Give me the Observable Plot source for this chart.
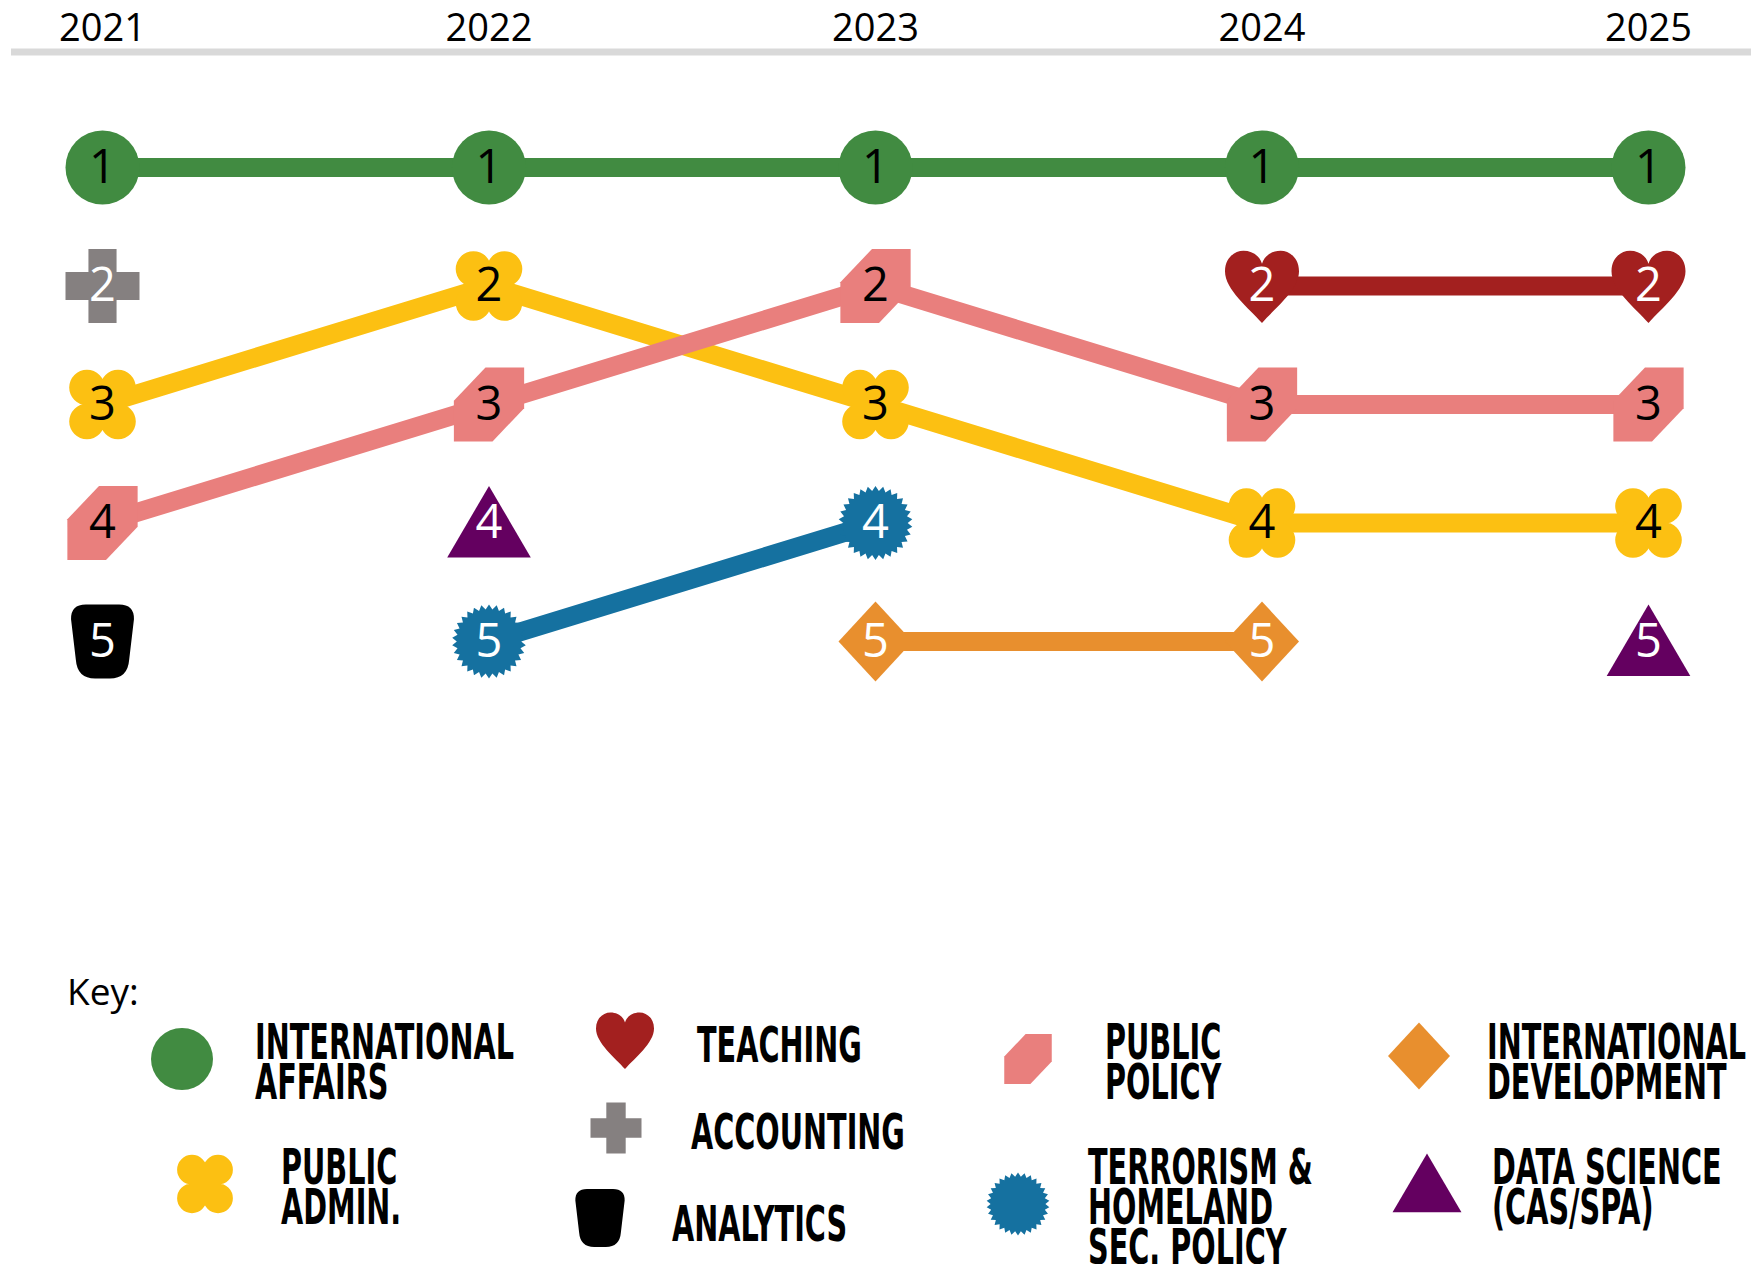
<!DOCTYPE html>
<html><head><meta charset="utf-8">
<script src="https://cdn.jsdelivr.net/npm/d3@7"></script>
<script src="https://cdn.jsdelivr.net/npm/@observablehq/plot@0.6"></script>
<style>
html,body{margin:0;padding:0;background:#fff;}
#chart svg,#legend svg{display:block;}
</style></head><body>
<div id="chart"></div>
<div id="legend"></div>
<script>
// ---------- data ----------
const years = [2021, 2022, 2023, 2024, 2025];
const programs = [
  "International Affairs", "Teaching", "Accounting", "Public Admin.", "Public Policy",
  "Analytics", "Terrorism & Homeland Sec. Policy", "International Development", "Data Science (CAS/SPA)"
];
// rank per year (null = not in top five that year)
const rankIntlAffairs   = [1, 1, 1, 1, 1];
const rankTeaching      = [null, null, null, 2, 2];
const rankAccounting    = [2, null, null, null, null];
const rankPublicAdmin   = [3, 2, 3, 4, 4];
const rankPublicPolicy  = [4, 3, 2, 3, 3];
const rankAnalytics     = [5, null, null, null, null];
const rankTerrorism     = [null, 5, 4, null, null];
const rankIntlDev       = [null, null, 5, 5, null];
const rankDataScience   = [null, 4, null, null, 5];
const rankSeries = [rankIntlAffairs, rankTeaching, rankAccounting, rankPublicAdmin, rankPublicPolicy,
  rankAnalytics, rankTerrorism, rankIntlDev, rankDataScience];
const legendLines = [
  ["INTERNATIONAL", "AFFAIRS"], ["TEACHING"], ["ACCOUNTING"], ["PUBLIC", "ADMIN."], ["PUBLIC", "POLICY"],
  ["ANALYTICS"], ["TERRORISM &", "HOMELAND", "SEC. POLICY"], ["INTERNATIONAL", "DEVELOPMENT"], ["DATA SCIENCE", "(CAS/SPA)"]
];

// ---------- styles ----------
const colors = ["#418b41", "#a3201f", "#858080", "#fcc012", "#e97f7d", "#000000", "#1571a0", "#e88f2e", "#640060"];
const digitColors = ["#000", "#fff", "#fff", "#000", "#000", "#fff", "#fff", "#fff", "#fff"];

// ---------- custom symbols (d3 symbol type interface) ----------
const R = s => Math.sqrt(s / Math.PI);
const poly = (c, pts, w, h) => { pts.forEach(([x, y], i) => i ? c.lineTo(x * w, y * h) : c.moveTo(x * w, y * h)); c.closePath(); };
const symCircle = {draw(c, s) { const r = R(s); c.moveTo(r, 0); c.arc(0, 0, r, 0, 2 * Math.PI); }};
const symBlob = {draw(c, s) {
  const r = R(s), cx = 0.42 * r, cy = 0.46 * r, rr = 0.48 * r;
  for (const [sx, sy] of [[-1, -1], [1, -1], [1, 1], [-1, 1]]) { c.moveTo(sx * cx + rr, sy * cy); c.arc(sx * cx, sy * cy, rr, 0, 2 * Math.PI); }
  poly(c, [[-1, -1], [1, -1], [1, 1], [-1, 1]], cx, cy);
}};
const symHex = {draw(c, s) { const r = R(s); poly(c, [[-0.1, -1], [1, -1], [1, 0.1], [0.1, 1], [-1, 1], [-1, -0.1]], 0.95 * r, r); }};
const symHeart = {draw(c, s) {
  const r = R(s), p = (x, y) => [x * r, y * r];
  c.moveTo(...p(0, 1.0));
  c.bezierCurveTo(...p(-0.35, 0.6), ...p(-1.0, 0.1), ...p(-1.0, -0.4));
  c.bezierCurveTo(...p(-1.0, -0.75), ...p(-0.75, -0.95), ...p(-0.5, -0.95));
  c.bezierCurveTo(...p(-0.25, -0.95), ...p(-0.05, -0.8), ...p(0, -0.6));
  c.bezierCurveTo(...p(0.05, -0.8), ...p(0.25, -0.95), ...p(0.5, -0.95));
  c.bezierCurveTo(...p(0.75, -0.95), ...p(1.0, -0.75), ...p(1.0, -0.4));
  c.bezierCurveTo(...p(1.0, 0.1), ...p(0.35, 0.6), ...p(0, 1.0));
  c.closePath();
}};
const symPlus = {draw(c, s) { const r = R(s), a = 0.38;
  poly(c, [[-a, -1], [a, -1], [a, -a], [1, -a], [1, a], [a, a], [a, 1], [-a, 1], [-a, a], [-1, a], [-1, -a], [-a, -a]], r, r); }};
const symTomb = {draw(c, s) {
  const r = R(s), p = (x, y) => [x * r, y * r];
  c.moveTo(...p(-0.45, -1)); c.lineTo(...p(0.45, -1));
  c.quadraticCurveTo(...p(0.86, -1), ...p(0.85, -0.6));
  c.lineTo(...p(0.72, 0.5));
  c.quadraticCurveTo(...p(0.68, 1), ...p(0.2, 1));
  c.lineTo(...p(-0.2, 1));
  c.quadraticCurveTo(...p(-0.68, 1), ...p(-0.72, 0.5));
  c.lineTo(...p(-0.85, -0.6));
  c.quadraticCurveTo(...p(-0.86, -1), ...p(-0.45, -1));
  c.closePath();
}};
const symStar = {draw(c, s) { const r = R(s), n = 30;
  for (let i = 0; i < 2 * n; ++i) { const a = i * Math.PI / n - Math.PI / 2, rad = i % 2 ? 0.87 * r : r;
    i ? c.lineTo(rad * Math.cos(a), rad * Math.sin(a)) : c.moveTo(rad * Math.cos(a), rad * Math.sin(a)); }
  c.closePath(); }};
const symDiamond = {draw(c, s) { const r = R(s); poly(c, [[0, -1.08], [1, 0], [0, 1.08], [-1, 0]], r, r); }};
const symTriangle = {draw(c, s) { const r = R(s); poly(c, [[0, -1.0], [1.13, 0.93], [-1.13, 0.93]], r, r); }};
const symbols = [symCircle, symHeart, symPlus, symBlob, symHex, symTomb, symStar, symDiamond, symTriangle];

// ---------- table ----------
const rows = programs.flatMap((p, k) => years.map((year, i) => ({program: p, k, year, rank: rankSeries[k][i] ?? NaN})));
const present = rows.filter(d => !isNaN(d.rank));

// ---------- main chart ----------
const marks = [];
programs.forEach((p, k) => marks.push(Plot.line(rows.filter(d => d.k === k), {x: "year", y: "rank", stroke: colors[k], strokeWidth: 19})));
programs.forEach((p, k) => marks.push(Plot.dot(present.filter(d => d.k === k), {x: "year", y: "rank", r: 37, symbol: symbols[k], fill: colors[k], stroke: "none"})));
programs.forEach((p, k) => marks.push(Plot.text(present.filter(d => d.k === k), {x: "year", y: "rank", text: d => String(d.rank), fill: digitColors[k], fontSize: 47, fontFamily: "Open Sans"})));
marks.push(Plot.axisX({anchor: "top", ticks: years, tickSize: 0, tickPadding: 12, tickFormat: d => String(d), fontSize: 38, fontFamily: "Open Sans", label: null}));

const chart = Plot.plot({
  width: 1751, height: 960,
  marginTop: 52, marginLeft: 102, marginRight: 103, marginBottom: 0,
  x: {type: "linear", domain: [2021, 2025], label: null},
  y: {domain: [1, 5], range: [167, 641], axis: null},
  style: {fontFamily: "Open Sans", color: "#000", background: "#fff"},
  marks
});
// top rule under the year labels
d3.select(chart).insert("line", ":first-child")
  .attr("x1", 11).attr("x2", 1751).attr("y1", 52).attr("y2", 52)
  .attr("stroke", "#d9d9d9").attr("stroke-width", 7);
document.getElementById("chart").append(chart);

// ---------- legend ----------
const legendTop = 960;
const legendLayout = [ // symbol center, symbol r, text left, first line center
  {sx: 182, sy: 1059, r: 31, tx: 255, ty: 1041},  // International Affairs
  {sx: 625, sy: 1040, r: 29, tx: 697, ty: 1044},  // Teaching
  {sx: 616, sy: 1128, r: 25.5, tx: 691, ty: 1131},// Accounting
  {sx: 205, sy: 1184, r: 31, tx: 281, ty: 1166},  // Public Admin
  {sx: 1028, sy: 1059, r: 25, tx: 1105, ty: 1041},// Public Policy
  {sx: 600, sy: 1218, r: 29, tx: 672, ty: 1223},  // Analytics
  {sx: 1018, sy: 1204, r: 31.5, tx: 1088, ty: 1166}, // Terrorism
  {sx: 1419, sy: 1056, r: 31, tx: 1487, ty: 1041},// Intl Development
  {sx: 1427, sy: 1184, r: 30.5, tx: 1492, ty: 1166} // Data Science
];
const lsvg = d3.create("svg").attr("width", 1751).attr("height", 1264 - legendTop)
  .attr("viewBox", `0 ${legendTop} 1751 ${1264 - legendTop}`).style("background", "#fff");
document.getElementById("legend").append(lsvg.node());
lsvg.append("text").attr("x", 67).attr("y", 1005).attr("font-family", "Open Sans").attr("font-size", 37).attr("fill", "#000").text("Key:");
const texts = [];
legendLayout.forEach((L, k) => {
  lsvg.append("path").attr("transform", `translate(${L.sx},${L.sy})`)
    .attr("d", d3.symbol(symbols[k], L.r * L.r * Math.PI)()).attr("fill", colors[k]);
  legendLines[k].forEach((line, j) => {
    const t = lsvg.append("text").attr("x", 0).attr("y", 0)
      .attr("font-family", "'Liberation Sans Narrow', 'DejaVu Sans Condensed', 'Liberation Sans', sans-serif")
      .attr("font-weight", "bold").attr("font-size", 50).attr("fill", "#000").text(line);
    texts.push({t, x: L.tx, y: L.ty + j * 40 + 18});
  });
});
// compress the bold labels to the condensed width of the reference lettering
const w0 = texts[0].t.node().getComputedTextLength();
const kx = 259 / w0;
texts.forEach(({t, x, y}) => t.attr("transform", `translate(${x},${y}) scale(${kx},1)`));
</script>
</body></html>
